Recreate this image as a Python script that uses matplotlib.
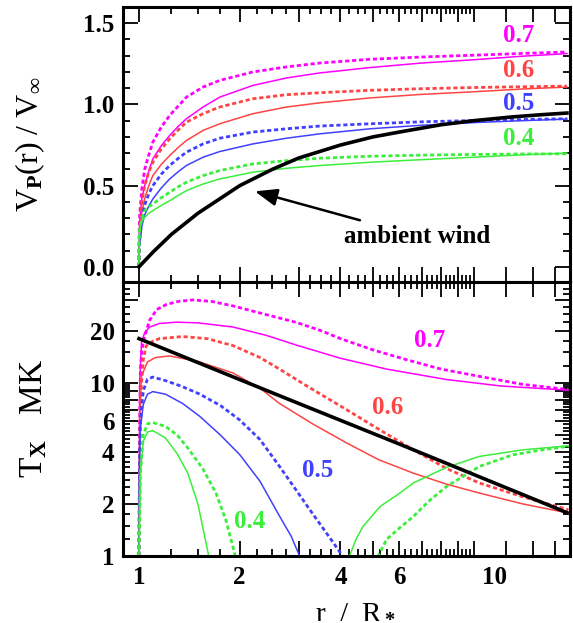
import numpy as np
import matplotlib
matplotlib.use("Agg")
import matplotlib.pyplot as plt
import matplotlib.transforms as mtransforms
from matplotlib.ticker import FixedLocator, NullFormatter, FixedFormatter

plt.rcParams['font.family'] = ['Liberation Serif', 'DejaVu Serif']
plt.rcParams['font.weight'] = 'bold'
plt.rcParams['mathtext.fontset'] = 'custom'
plt.rcParams['mathtext.rm'] = 'Liberation Serif:bold'
plt.rcParams['mathtext.it'] = 'Liberation Serif:bold'
plt.rcParams['mathtext.bf'] = 'Liberation Serif:bold'

# ---------------- data ----------------
# top panel: velocity profiles V_P(r)/V_inf
r_top = [1.0, 1.002, 1.005, 1.01, 1.02, 1.04, 1.07, 1.10, 1.165, 1.235, 1.31,
         1.386, 1.554, 1.743, 2.19, 2.76, 3.47, 4.9, 7.0, 10.0, 14.0, 19.0]
v7_dot = [0, .25, .32, .38, .48, .60, .69, .768, .86, .932, .99,
          1.045, 1.107, 1.148, 1.20, 1.231, 1.255, 1.278, 1.292, 1.303, 1.314, 1.323]
v7_sol = [0, .20, .28, .34, .42, .50, .59, .665, .745, .809, .865,
          .912, .984, 1.045, 1.117, 1.163, 1.194, 1.227, 1.255, 1.275, 1.297, 1.313]
v6_dot = [0, .18, .24, .294, .40, .50, .585, .644, .725, .788, .843,
          .891, .943, .984, 1.035, 1.06, 1.072, 1.087, 1.097, 1.104, 1.109, 1.113]
v6_sol = [0, .16, .21, .25, .34, .42, .50, .562, .63, .685, .735,
          .778, .840, .881, .943, .984, 1.01, 1.04, 1.062, 1.078, 1.095, 1.107]
v5_dot = [0, .14, .18, .21, .30, .38, .45, .50, .57, .624, .668,
          .706, .757, .792, .83, .85, .867, .881, .893, .901, .907, .912]
v5_sol = [0, .12, .15, .17, .25, .32, .375, .418, .485, .541, .586,
          .624, .675, .71, .757, .792, .819, .85, .872, .888, .900, .91]
v4_dot = [0, .18, .23, .25, .30, .346, .37, .387, .425, .459, .493,
          .521, .562, .593, .634, .654, .669, .681, .688, .692, .695, .696]
v4_sol = [0, .18, .23, .25, .28, .305, .33, .346, .378, .407, .44,
          .469, .51, .541, .583, .607, .624, .644, .66, .675, .69, .70]

r_wind = [1, 1.1, 1.25, 1.5, 2, 2.5, 3, 4, 5, 6, 8, 10, 13, 16, 19]
v_wind = [0, .09, .20, .33, .50, .60, .67, .75, .80, .83, .875, .90, .923, .937, .947]

# bottom panel: shock temperatures T_X (MK)
r_Tw = [1.0, 2.6, 6.0, 19.0]
T_wind = [18.0, 8.5, 4.43, 1.78]

r7d = [1.0, 1.005, 1.01, 1.02, 1.04, 1.076, 1.13, 1.21, 1.32, 1.45, 1.65, 1.91,
       2.3, 2.96, 3.5, 4.0, 5.0, 6.3, 8.0, 10.4, 14.0, 19.2]
T7d = [1.0, 6, 12, 15.5, 18.6, 23.0, 26.5, 28.4, 29.6, 30.1, 29.5, 27.8,
       25.3, 22.3, 20.0, 18.0, 15.5, 13.6, 12.0, 10.9, 9.8, 9.15]
r7s = [1.0, 1.005, 1.017, 1.04, 1.076, 1.15, 1.294, 1.5, 1.91, 2.4, 2.96,
       3.98, 5.5, 8.3, 12.0, 19.2]
T7s = [1.0, 10, 17, 19.5, 21.0, 22.0, 22.4, 22.2, 21.0, 18.8, 16.5,
       13.9, 12.0, 10.45, 9.6, 9.06]
r6d = [1.0, 1.005, 1.01, 1.03, 1.05, 1.1, 1.15, 1.35, 1.6, 1.91, 2.3, 2.63,
       3.2, 4.17, 5.2, 6.6, 8.3, 10.4, 14.0, 19.2]
T6d = [1.0, 5, 8, 13.6, 16.3, 17.4, 18.0, 18.5, 18.0, 16.4, 14.0, 12.0,
       9.5, 7.0, 5.4, 4.11, 3.2, 2.64, 2.2, 1.85]
r6s = [1.0, 1.005, 1.017, 1.06, 1.12, 1.235, 1.5, 1.91, 2.3, 2.63, 3.3,
       4.17, 5.2, 6.6, 8.3, 10.4, 14.0, 19.2]
T6s = [1.0, 6, 10.9, 13.2, 14.0, 14.3, 13.3, 11.4, 9.3, 7.6, 5.8,
       4.5, 3.6, 3.01, 2.6, 2.31, 2.0, 1.77]
r5d = [1.0, 1.005, 1.01, 1.03, 1.06, 1.1, 1.2, 1.35, 1.52, 1.75, 2.0, 2.3,
       2.63, 2.95, 3.24, 3.5, 3.8, 4.06, 4.1]
T5d = [1.0, 4, 6, 9, 10.5, 10.8, 10.3, 9.5, 8.6, 7.4, 6.1, 4.7,
       3.29, 2.4, 1.85, 1.5, 1.2, 1.0, 0.9]
r5s = [1.0, 1.005, 1.01, 1.03, 1.06, 1.1, 1.2, 1.35, 1.52, 1.75, 2.0, 2.3,
       2.63, 2.85, 3.02, 3.05]
T5s = [1.0, 4, 5.5, 7.5, 8.6, 8.9, 8.6, 7.6, 6.4, 5.0, 3.85, 2.7,
       1.7, 1.3, 1.0, 0.9]
r4d = [1.0, 1.01, 1.03, 1.06, 1.1, 1.2, 1.3, 1.4, 1.55, 1.7, 1.82, 1.94, 1.96]
T4d = [1.0, 3, 5, 5.8, 5.9, 5.6, 5.0, 4.2, 3.2, 2.3, 1.6, 1.0, 0.9]
r4s = [1.0, 1.01, 1.03, 1.06, 1.1, 1.2, 1.3, 1.4, 1.5, 1.616, 1.63]
T4s = [1.0, 3, 4.6, 5.2, 5.3, 4.8, 3.9, 3.0, 2.0, 1.0, 0.9]
r4d_out = [5.15, 5.18, 5.5, 6.0, 6.6, 7.4, 8.3, 10.4, 13.1, 16.0, 19.2]
T4d_out = [0.9, 1.0, 1.25, 1.45, 1.69, 2.1, 2.52, 3.29, 3.84, 4.1, 4.3]
r4s_out = [4.22, 4.26, 4.45, 4.67, 5.25, 6.0, 6.6, 8.3, 10.4, 14.0, 19.2]
T4s_out = [0.9, 1.0, 1.25, 1.48, 1.93, 2.3, 2.64, 3.25, 3.76, 4.1, 4.33]

labels = ['0.7', '0.6', '0.5', '0.4']
colors = ['#ff00ff', '#ff4444', '#4040ff', '#3cee3c']

xticks_lab = [1, 2, 4, 6, 10]
ytop_ticks = [0.0, 0.5, 1.0, 1.5]
ybot_lab = [1, 2, 4, 6, 10, 20]

# ---------------- figure ----------------
fig = plt.figure(figsize=(5.73, 6.23), dpi=100)
ax1 = fig.add_axes([0.2147, 0.5474, 0.780, 0.4414])
ax2 = fig.add_axes([0.2147, 0.1075, 0.780, 0.4398], sharex=ax1)

dot = (0, (1.5, 1.0))
lw_d, lw_s = 2.0, 1.1

# top
for vd, vs, c in zip([v7_dot, v6_dot, v5_dot, v4_dot],
                     [v7_sol, v6_sol, v5_sol, v4_sol], colors):
    ax1.plot(r_top, vd, color=c, ls=dot, lw=lw_d)
    ax1.plot(r_top, vs, color=c, ls='-', lw=lw_s)
ax1.plot(r_wind, v_wind, color='black', lw=2.6)

lab_v = [1.426, 1.21, 1.004, 0.788]
for t, c, v in zip(labels, colors, lab_v):
    ax1.text(13.6, v, t, color=c, fontsize=18, ha='center', va='center')

ax1.annotate('ambient wind', xy=(2.22, 0.465), xytext=(4.1, 0.19),
             fontsize=18, ha='left', va='center',
             arrowprops=dict(arrowstyle='-|>,head_length=0.9,head_width=0.35',
                             color='black', lw=1.8, shrinkA=4, shrinkB=0,
                             mutation_scale=15))

# bottom
ax2.plot(r7d, T7d, color=colors[0], ls=dot, lw=lw_d)
ax2.plot(r7s, T7s, color=colors[0], ls='-', lw=lw_s)
ax2.plot(r6d, T6d, color=colors[1], ls=dot, lw=lw_d)
ax2.plot(r6s, T6s, color=colors[1], ls='-', lw=lw_s)
ax2.plot(r5d, T5d, color=colors[2], ls=dot, lw=lw_d)
ax2.plot(r5s, T5s, color=colors[2], ls='-', lw=lw_s)
ax2.plot(r4d, T4d, color=colors[3], ls=dot, lw=lw_d)
ax2.plot(r4s, T4s, color=colors[3], ls='-', lw=lw_s)
ax2.plot(r4d_out, T4d_out, color=colors[3], ls=dot, lw=lw_d)
ax2.plot(r4s_out, T4s_out, color=colors[3], ls='-', lw=lw_s)
ax2.plot(r_Tw, T_wind, color='black', lw=2.6)

lab_pos = [(7.4, 17.6), (5.55, 7.17), (3.42, 3.1), (2.146, 1.59)]
for t, c, (x, y) in zip(labels, colors, lab_pos):
    ax2.text(x, y, t, color=c, fontsize=18, ha='center', va='center')

# axes setup
ax1.set_xscale('log')
ax2.set_xscale('log')
ax2.set_yscale('log')
ax1.set_xlim(0.896, 19.4)
ax1.set_ylim(-0.093, 1.60)
ax2.set_ylim(1.0, 38.2)

x_major = list(range(1, 11)) + [12.5, 15, 17.5]
x_minor = [v for v in np.arange(1, 10, 0.25) if v % 1 != 0]
for ax in (ax1, ax2):
    ax.xaxis.set_major_locator(FixedLocator(x_major))
    ax.xaxis.set_minor_locator(FixedLocator(x_minor))
    ax.xaxis.set_minor_formatter(NullFormatter())
    for s in ax.spines.values():
        s.set_linewidth(2.2)
    ax.tick_params(which='both', direction='in', top=True, right=True,
                   labelsize=18, width=1.3)
    ax.tick_params(which='major', length=11)
    ax.tick_params(which='minor', length=5)

ax2.xaxis.set_major_formatter(FixedFormatter(
    [str(v) if v in xticks_lab else '' for v in x_major]))
ax2.tick_params(axis='x', pad=7)
plt.setp(ax1.get_xticklabels(), visible=False)

ax1.yaxis.set_major_locator(FixedLocator(ytop_ticks))
ax1.yaxis.set_minor_locator(FixedLocator(np.arange(-0.1, 1.61, 0.1)))
ax1.set_yticklabels(['%.1f' % v for v in ytop_ticks])
ax1.tick_params(axis='y', pad=6)

y_major = list(range(1, 11)) + [20, 30]
y_minor = [v for v in np.arange(1, 10, 0.25) if v % 1 != 0] + \
          [12.5, 15, 17.5, 22.5, 25, 27.5, 32.5, 35, 37.5]
ax2.yaxis.set_major_locator(FixedLocator(y_major))
ax2.yaxis.set_minor_locator(FixedLocator(y_minor))
ax2.yaxis.set_minor_formatter(NullFormatter())
ax2.yaxis.set_major_formatter(FixedFormatter(
    [str(v) if v in ybot_lab else '' for v in y_major]))
ax2.tick_params(axis='y', pad=6)

# the "10" label sits to the right of its tick in the original
for lab in ax2.get_xticklabels():
    if lab.get_text() == '10':
        lab.set_transform(lab.get_transform() +
                          mtransforms.ScaledTranslation(21 / 100, 0, fig.dpi_scale_trans))

ax1.set_ylabel(r'V$_\mathrm{P}$(r) / V$_\infty$', fontsize=23)
ax1.yaxis.set_label_coords(-0.17, 0.5)
ax2.set_ylabel(r'T$_\mathrm{X}$   MK', fontsize=24)
ax2.yaxis.set_label_coords(-0.165, 0.5)
ax2.set_xlabel(r'r  /  R$_*$', fontsize=21, va='top')
ax2.xaxis.set_label_coords(0.52, -0.155)

fig.savefig('out.png', dpi=100)
